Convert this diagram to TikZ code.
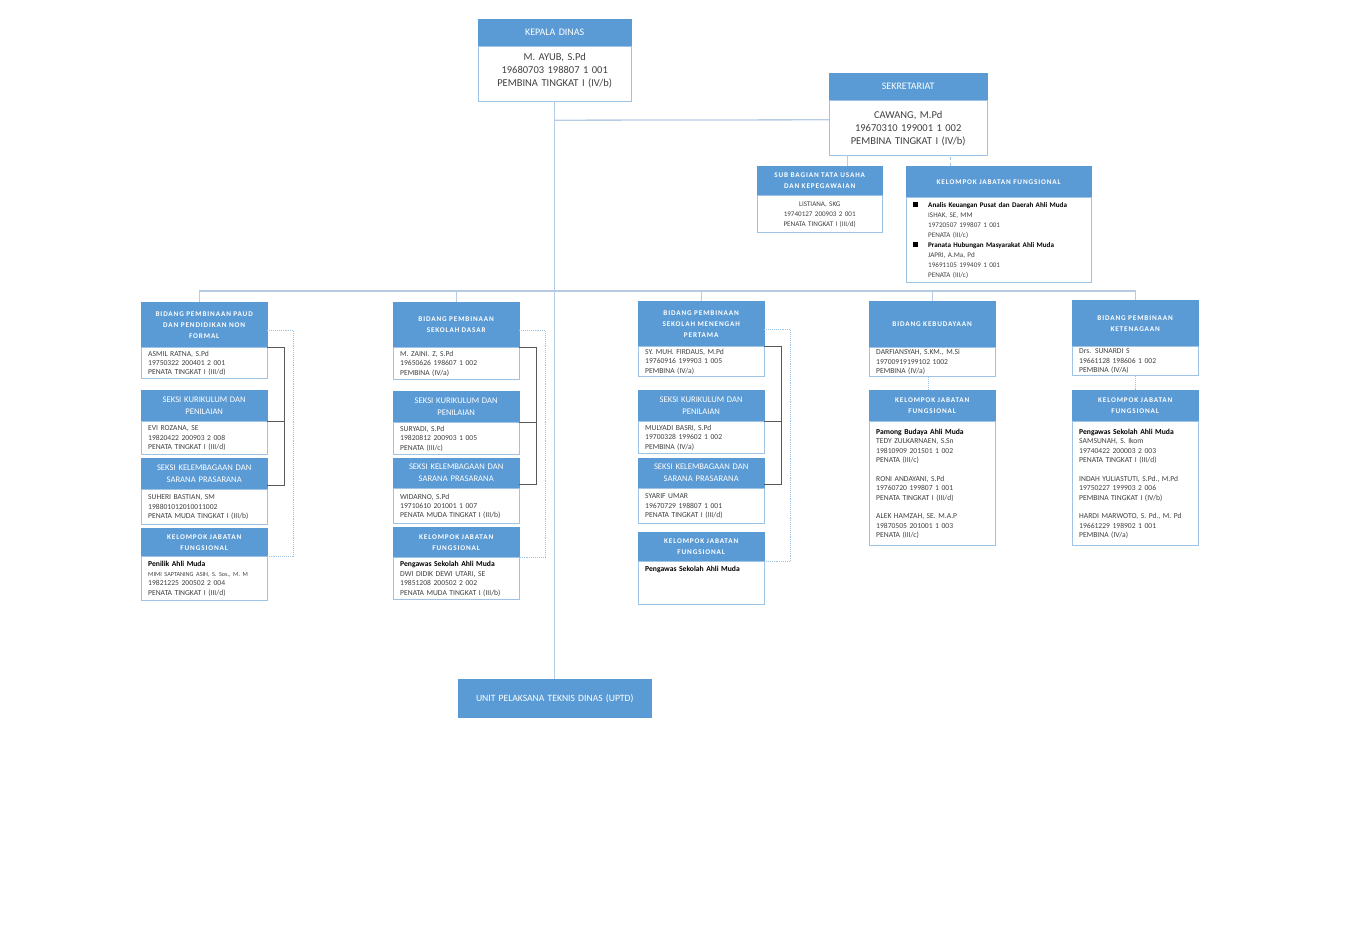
\documentclass[tikz,border=0pt]{standalone}
\usepackage{fontspec}
\setmainfont{Carlito}
\newfontfamily\spacedfont[LetterSpace=12.0]{Carlito}
\usepackage{xcolor}
\usepackage{tikz}
\usetikzlibrary{positioning}
\definecolor{OrgBlue}{HTML}{5B9BD5}
\definecolor{OrgEdge}{HTML}{9DC3E6}
\definecolor{OrgLink}{HTML}{B7CCE4}
\definecolor{OrgTie}{HTML}{595959}
\definecolor{OrgText}{HTML}{404040}
\tikzset{
  org/head/.style={draw=OrgBlue, fill=OrgBlue, text=white, inner sep=0pt, align=center, anchor=north west},
  org/body/.style={draw=OrgEdge, line width=0.8pt, fill=white, text=OrgText, inner sep=0pt},
  org/title/.style={font=\fontsize{10pt}{12pt}\selectfont},
  org/main/.style={align=center, font=\fontsize{10.5pt}{13pt}\selectfont},
  org/caps/.style={font=\spacedfont\bfseries\fontsize{7.2pt}{11pt}\selectfont},
  org/seksi/.style={font=\fontsize{8.6pt}{12pt}\selectfont},
  org/unit/.style={font=\fontsize{9.6pt}{12pt}\selectfont},
  org/small/.style={align=center, font=\fontsize{7.1pt}{10pt}\selectfont},
  org/bullets/.style={align=left, inner xsep=7pt, font=\fontsize{7.1pt}{10pt}\selectfont},
  org/list/.style={align=left, inner xsep=7pt, font=\fontsize{7.6pt}{9.4pt}\selectfont},
  org/col/.style={minimum width=126pt, text width=126pt},
  org/colb/.style={minimum width=126pt, text width=112pt},
  org/link/.style={draw=OrgLink, line width=1.3pt},
  org/tie/.style={draw=OrgTie, line width=0.8pt},
  org/dots/.style={draw=OrgEdge, line width=0.9pt, densely dotted},
  org/dash/.style={draw=OrgEdge, line width=0.9pt, dashed}
}

\begin{document}
\begin{tikzpicture}[x=1pt,y=-1pt]
\useasboundingbox (0,0) rectangle (1369,933);

% pimpinan
\node[org/head, org/title, minimum width=153pt, text width=153pt, minimum height=27pt] (kd) at (478,19) {KEPALA DINAS};
\node[org/body, org/main, minimum width=153pt, text width=153pt, minimum height=55pt, below=0pt of kd] (kd-p) {M. AYUB, S.Pd\\19680703 198807 1 001\\PEMBINA TINGKAT I (IV/b)\\[-4pt]\mbox{}};

\node[org/head, org/title, minimum width=158pt, text width=158pt, minimum height=27pt] (sek) at (829,73) {SEKRETARIAT};
\node[org/body, org/main, minimum width=158pt, text width=158pt, minimum height=55pt, below=0pt of sek] (sek-p) {CAWANG, M.Pd\\19670310 199001 1 002\\PEMBINA TINGKAT I (IV/b)};

\node[org/head, org/caps, minimum width=125pt, text width=125pt, minimum height=29pt] (sub) at (757,166) {SUB BAGIAN TATA USAHA\\DAN KEPEGAWAIAN};
\node[org/body, org/small, minimum width=125pt, text width=125pt, minimum height=37pt, below=0pt of sub] (sub-p) {LISTIANA, SKG\\19740127 200903 2 001\\PENATA TINGKAT I (III/d)};

\node[org/head, org/caps, minimum width=185pt, text width=185pt, minimum height=31pt] (kjf0) at (906,166) {KELOMPOK JABATAN FUNGSIONAL};
\node[org/body, org/bullets, minimum width=185pt, text width=171pt, minimum height=85pt, below=0pt of kjf0] (kjf0-p) {%
  \makebox[15pt][l]{\color{black}\rule[0.5pt]{4.5pt}{4.5pt}}\textbf{\color{black}Analis Keuangan Pusat dan Daerah Ahli Muda}\\
  \hspace*{15pt}ISHAK, SE, MM\\
  \hspace*{15pt}19720507 199807 1 001\\
  \hspace*{15pt}PENATA (III/c)\\
  \makebox[15pt][l]{\color{black}\rule[0.5pt]{4.5pt}{4.5pt}}\textbf{\color{black}Pranata Hubungan Masyarakat Ahli Muda}\\
  \hspace*{15pt}JAPRI, A.Ma, Pd\\
  \hspace*{15pt}19691105 199409 1 001\\
  \hspace*{15pt}PENATA (III/c)};

% bidang 1
\node[org/head, org/caps, org/col, minimum height=45pt] (bid1) at (141,302) {BIDANG PEMBINAAN PAUD\\DAN PENDIDIKAN NON\\FORMAL};
\node[org/body, org/list, org/colb, minimum height=31pt, below=0pt of bid1] (bid1-p) {ASMIL RATNA, S.Pd\\19750322 200401 2 001\\PENATA TINGKAT I (III/d)};
\node[org/head, org/seksi, org/col, minimum height=31pt] (ska1) at (141,390) {SEKSI KURIKULUM DAN\\PENILAIAN};
\node[org/body, org/list, org/colb, minimum height=33pt, below=0pt of ska1] (ska1-p) {EVI ROZANA, SE\\19820422 200903 2 008\\PENATA TINGKAT I (III/d)};
\node[org/head, org/seksi, org/col, minimum height=31pt] (skb1) at (141,458) {SEKSI KELEMBAGAAN DAN\\SARANA PRASARANA};
\node[org/body, org/list, org/colb, minimum height=35pt, below=0pt of skb1] (skb1-p) {SUHERI BASTIAN, SM\\198801012010011002\\PENATA MUDA TINGKAT I (III/b)};
\node[org/head, org/caps, org/col, minimum height=28pt] (kjf1) at (141,528) {KELOMPOK JABATAN\\FUNGSIONAL};
\node[org/body, org/list, org/colb, minimum height=44pt, below=0pt of kjf1] (kjf1-p) {\textbf{\color{black}Penilik Ahli Muda}\\{\fontsize{6.2pt}{9.4pt}\selectfont MIMI SAPTANING ASIH, S. Sos., M. M}\\19821225 200502 2 004\\PENATA TINGKAT I (III/d)};

% bidang 2
\node[org/head, org/caps, org/col, minimum height=45pt] (bid2) at (393,302) {BIDANG PEMBINAAN\\SEKOLAH DASAR};
\node[org/body, org/list, org/colb, minimum height=32pt, below=0pt of bid2] (bid2-p) {M. ZAINI. Z, S.Pd\\19650626 198607 1 002\\PEMBINA (IV/a)};
\node[org/head, org/seksi, org/col, minimum height=31pt] (ska2) at (393,391) {SEKSI KURIKULUM DAN\\PENILAIAN};
\node[org/body, org/list, org/colb, minimum height=32pt, below=0pt of ska2] (ska2-p) {SURYADI, S.Pd\\19820812 200903 1 005\\PENATA (III/c)};
\node[org/head, org/seksi, org/col, minimum height=30pt] (skb2) at (393,458) {SEKSI KELEMBAGAAN DAN\\SARANA PRASARANA};
\node[org/body, org/list, org/colb, minimum height=35pt, below=0pt of skb2] (skb2-p) {WIDARNO, S.Pd\\19710610 201001 1 007\\PENATA MUDA TINGKAT I (III/b)};
\node[org/head, org/caps, org/col, minimum height=30pt] (kjf2) at (393,527) {KELOMPOK JABATAN\\FUNGSIONAL};
\node[org/body, org/list, org/colb, minimum height=42pt, below=0pt of kjf2] (kjf2-p) {\textbf{\color{black}Pengawas Sekolah Ahli Muda}\\DWI DIDIK DEWI UTARI, SE\\19851208 200502 2 002\\PENATA MUDA TINGKAT I (III/b)};

% bidang 3
\node[org/head, org/caps, org/col, minimum height=45pt] (bid3) at (638,301) {BIDANG PEMBINAAN\\SEKOLAH MENENGAH\\PERTAMA};
\node[org/body, org/list, org/colb, minimum height=30pt, below=0pt of bid3] (bid3-p) {SY. MUH. FIRDAUS, M.Pd\\19760916 199903 1 005\\PEMBINA (IV/a)};
\node[org/head, org/seksi, org/col, minimum height=31pt] (ska3) at (638,390) {SEKSI KURIKULUM DAN\\PENILAIAN};
\node[org/body, org/list, org/colb, minimum height=32pt, below=0pt of ska3] (ska3-p) {MULYADI BASRI, S.Pd\\19700328 199602 1 002\\PEMBINA (IV/a)};
\node[org/head, org/seksi, org/col, minimum height=30pt] (skb3) at (638,458) {SEKSI KELEMBAGAAN DAN\\SARANA PRASARANA};
\node[org/body, org/list, org/colb, minimum height=35pt, below=0pt of skb3] (skb3-p) {SYARIF UMAR\\19670729 198807 1 001\\PENATA TINGKAT I (III/d)};
\node[org/head, org/caps, org/col, minimum height=29pt] (kjf3) at (638,532) {KELOMPOK JABATAN\\FUNGSIONAL};
\node[org/body, org/list, org/colb, minimum height=43pt, below=0pt of kjf3] (kjf3-p) {\textbf{\color{black}Pengawas Sekolah Ahli Muda}\\\mbox{}\\\mbox{}\\\mbox{}};

% bidang 4
\node[org/head, org/caps, org/col, minimum height=46pt] (bid4) at (869,301) {BIDANG KEBUDAYAAN};
\node[org/body, org/list, org/colb, minimum height=29pt, below=0pt of bid4] (bid4-p) {DARFIANSYAH, S.KM., M.Si\\19700919199102 1002\\PEMBINA (IV/a)};
\node[org/head, org/caps, org/col, minimum height=31pt] (kjf4) at (869,390) {KELOMPOK JABATAN\\FUNGSIONAL};
\node[org/body, org/list, org/colb, minimum height=124pt, below=0pt of kjf4] (kjf4-p) {\textbf{\color{black}Pamong Budaya Ahli Muda}\\TEDY ZULKARNAEN, S.Sn\\19810909 201501 1 002\\PENATA (III/c)\\[9.4pt]RONI ANDAYANI, S.Pd\\19760720 199807 1 001\\PENATA TINGKAT I (III/d)\\[9.4pt]ALEK HAMZAH, SE. M.A.P\\19870505 201001 1 003\\PENATA (III/c)};

% bidang 5
\node[org/head, org/caps, org/col, minimum height=46pt] (bid5) at (1072,300) {BIDANG PEMBINAAN\\KETENAGAAN};
\node[org/body, org/list, org/colb, minimum height=29pt, below=0pt of bid5] (bid5-p) {Drs. SUNARDI S\\19661128 198606 1 002\\PEMBINA (IV/A)};
\node[org/head, org/caps, org/col, minimum height=31pt] (kjf5) at (1072,390) {KELOMPOK JABATAN\\FUNGSIONAL};
\node[org/body, org/list, org/colb, minimum height=124pt, below=0pt of kjf5] (kjf5-p) {\textbf{\color{black}Pengawas Sekolah Ahli Muda}\\SAMSUNAH, S. Ikom\\19740422 200003 2 003\\PENATA TINGKAT I (III/d)\\[9.4pt]INDAH YULIASTUTI, S.Pd., M.Pd\\19750227 199903 2 006\\PEMBINA TINGKAT I (IV/b)\\[9.4pt]HARDI MARWOTO, S. Pd., M. Pd\\19661229 198902 1 001\\PEMBINA (IV/a)};

\node[org/head, org/unit, minimum width=193pt, text width=193pt, minimum height=38pt] (uptd) at (458,679) {UNIT PELAKSANA TEKNIS DINAS (UPTD)};

% garis komando
\coordinate (bus) at (554,291);
\draw[org/link] (kd-p.south) -- (uptd.north);
\draw[org/link] (kd-p.south) ++(0,18) -- ([yshift=8.5pt]sek-p.west);
\draw[org/link] ([xshift=-5pt]bid1.north) |- (bus) -| (bid5.north);
\foreach \c in {2,3,4}
  \draw[org/link] (bid\c.north) -- (bid\c.north |- bus);
\draw[org/link, line width=0.9pt] ([xshift=28pt]sub.north) -- ++(0,-11);
\draw[org/dash] ([xshift=-48pt]kjf0.north) -- ++(0,-11);

% seksi dan fungsional
\foreach \c in {1,2,3} {
  \draw[org/tie] (bid\c.south east) -- ++(17,0) coordinate (t\c) |- ([yshift=4pt]skb\c.south east);
  \draw[org/tie] (ska\c.south east) -- (t\c |- ska\c.south east);
  \draw[org/dots] ([yshift=-6pt]bid\c.east) -- ++(26,0) |- (kjf\c.south east);
}
\draw[org/dots] ([xshift=-4pt]bid4-p.south) -- ([xshift=-4pt]kjf4.north);
\draw[org/dots] (bid5-p.south) -- (kjf5.north);

\end{tikzpicture}
\end{document}
